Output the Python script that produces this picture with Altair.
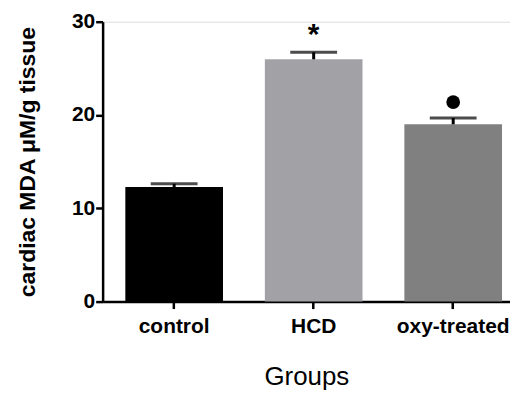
import altair as alt
import pandas as pd

groups = ["control", "HCD", "oxy-treated"]
means = [12.27, 25.97, 19.0]
upper = [12.63, 26.72, 19.68]
marks = ["", "*", "●"]
colors = ["#000000", "#a2a1a6", "#808080"]

df = pd.DataFrame({"group": groups, "mean": means, "upper": upper, "mark": marks})

FONT = "Liberation Sans"

xscale = alt.Scale(domain=groups, paddingInner=0.3, paddingOuter=0.11, align=0.74)
x = alt.X("group:N", sort=groups, scale=xscale,
          axis=alt.Axis(title="Groups", labelAngle=0, labelFontSize=21, labelFontWeight="bold",
                        labelColor="black", labelFont=FONT, labelPadding=7,
                        titleFontSize=26, titleFontWeight="normal", titleFont=FONT,
                        titleColor="black", titlePadding=27,
                        domainColor="black", domainWidth=2.5, tickColor="black",
                        tickWidth=2.5, tickSize=7))
y_axis = alt.Axis(title="cardiac MDA μM/g tissue", values=[0, 10, 20, 30], grid=False,
                  labelFontSize=21, labelFontWeight="bold", labelColor="black", labelFont=FONT,
                  labelPadding=1, titleFontSize=23, titleFontWeight="bold", titleFont=FONT,
                  titleColor="black", titlePadding=32, domainColor="black", domainWidth=2.5,
                  tickColor="black", tickWidth=2.5, tickSize=7)
yscale = alt.Scale(domain=[0, 30], nice=False)

base = alt.Chart(df)
xs = alt.X("group:N", sort=groups, scale=xscale)

bars = base.mark_bar().encode(
    x=x,
    y=alt.Y("mean:Q", scale=yscale, axis=y_axis),
    color=alt.Color("group:N", scale=alt.Scale(domain=groups, range=colors), legend=None),
)

stem = base.mark_rule(color="black", strokeWidth=3).encode(
    x=xs, y=alt.Y("mean:Q", scale=yscale), y2="upper:Q",
)

cap = base.mark_tick(color="black", thickness=3, size=47).encode(
    x=xs, y=alt.Y("upper:Q", scale=yscale),
)

star = base.transform_filter(alt.datum.mark == "*").mark_text(
    fontSize=30, fontWeight="bold", color="black", dy=-8, baseline="alphabetic", font=FONT
).encode(x=xs, y=alt.Y("upper:Q", scale=yscale), text="mark:N")

dot = base.transform_filter(alt.datum.mark == "●").mark_point(
    shape="circle", filled=True, size=190, color="black", opacity=1, yOffset=-16
).encode(x=xs, y=alt.Y("upper:Q", scale=yscale))

chart = alt.layer(bars, stem, cap, star, dot).properties(
    width=409, height=281,
    padding={"left": 8, "top": 2, "right": 0, "bottom": 0},
).configure_view(stroke=None).configure(background="white")

chart.save("out.html", embed_options={"renderer": "svg", "actions": False})
